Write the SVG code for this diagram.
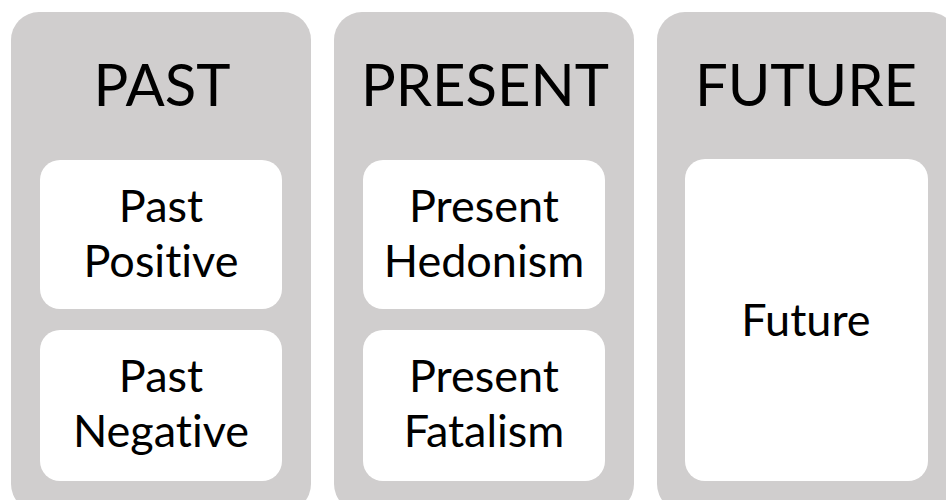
<svg xmlns="http://www.w3.org/2000/svg" width="946" height="500" viewBox="0 0 946 500">
  <style>
    .col { fill: #D0CECE; }
    .box { fill: #FFFFFF; }
    text { font-family: "Lato", "Open Sans", sans-serif; fill: #000000; text-anchor: middle;
           font-variant-ligatures: none; font-feature-settings: "liga" 0, "clig" 0; }
    .title { font-size: 58px; }
    .label { font-size: 45px; }
  </style>

  <!-- PAST column -->
  <g id="past">
    <rect class="col" x="11" y="12" width="300" height="500" rx="28" ry="28"/>
    <text class="title" x="162" y="106">PAST</text>
  </g>
  <g id="past-positive">
    <rect class="box" x="40" y="160" width="242" height="149" rx="20" ry="20"/>
    <text class="label" x="161" y="222">Past</text>
    <text class="label" x="161" y="277">Positive</text>
  </g>
  <g id="past-negative">
    <rect class="box" x="40" y="330" width="242" height="151" rx="20" ry="20"/>
    <text class="label" x="161" y="392">Past</text>
    <text class="label" x="161" y="447">Negative</text>
  </g>

  <!-- PRESENT column -->
  <g id="present">
    <rect class="col" x="334" y="12" width="300" height="500" rx="28" ry="28"/>
    <text class="title" x="485" y="106">PRESENT</text>
  </g>
  <g id="present-hedonism">
    <rect class="box" x="363" y="160" width="242" height="149" rx="20" ry="20"/>
    <text class="label" x="484" y="222">Present</text>
    <text class="label" x="484" y="277">Hedonism</text>
  </g>
  <g id="present-fatalism">
    <rect class="box" x="363" y="330" width="242" height="151" rx="20" ry="20"/>
    <text class="label" x="484" y="392">Present</text>
    <text class="label" x="484" y="447">Fatalism</text>
  </g>

  <!-- FUTURE column -->
  <g id="future-column">
    <rect class="col" x="657" y="12" width="300" height="500" rx="28" ry="28"/>
    <text class="title" x="806" y="106">FUTURE</text>
  </g>
  <g id="future">
    <rect class="box" x="685" y="159" width="243" height="322" rx="20" ry="20"/>
    <text class="label" x="806" y="336">Future</text>
  </g>
</svg>
